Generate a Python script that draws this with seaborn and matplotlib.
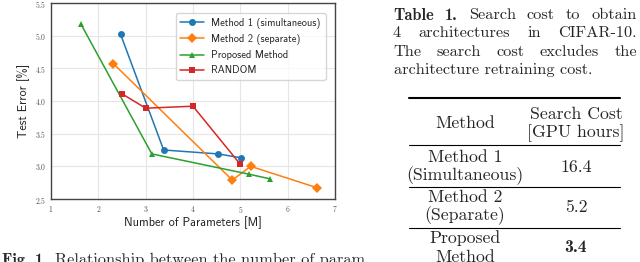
import pandas as pd
import matplotlib.pyplot as plt
import seaborn as sns
from matplotlib.lines import Line2D

# chart data
methods = ["Method 1 (simultaneous)", "Method 2 (separate)", "Proposed Method", "RANDOM"]
params_m1 = [2.47, 3.38, 4.53, 5.02]
error_m1 = [5.02, 3.25, 3.19, 3.13]
params_m2 = [2.32, 4.83, 5.22, 6.63]
error_m2 = [4.57, 2.79, 3.00, 2.67]
params_prop = [1.63, 3.13, 5.18, 5.62]
error_prop = [5.18, 3.19, 2.88, 2.81]
params_rand = [2.50, 3.00, 4.00, 5.00]
error_rand = [4.11, 3.89, 3.92, 3.03]

# table data
table_methods = [("Method 1", "(Simultaneous)"), ("Method 2", "(Separate)"), ("Proposed", "Method")]
table_costs = ["16.4", "5.2", "3.4"]

W, H = 640, 262


def fx(x):
    return x / W


def fy(y):
    return 1 - y / H


rows = []
for name, xs, ys in zip(methods,
                        [params_m1, params_m2, params_prop, params_rand],
                        [error_m1, error_m2, error_prop, error_rand]):
    for x, y in zip(xs, ys):
        rows.append({"Method": name, "Params": x, "Error": y})
df = pd.DataFrame(rows)

sns.set_style("whitegrid", {"axes.edgecolor": "#444444", "grid.color": "#e6e6e6"})
plt.rcParams["axes.formatter.use_mathtext"] = True

fig = plt.figure(figsize=(W / 100, H / 100), dpi=100)
renderer = fig.canvas.get_renderer()


def text_width(s, family, size=10):
    t = fig.text(0, 0, s, family=family, fontsize=size)
    w = t.get_window_extent(renderer).width
    t.remove()
    return w


# pick font sizes so the text spans about the same width as in the paper
cap_size = 10 * 198 / text_width("architecture retraining cost.", "cmr10")
tab_size = 10 * 117 / text_width("(Simultaneous)", "cmr10")
lab_size = 10 * 138 / text_width("Number of Parameters [M]", "cmss10")
leg_size = 10 * 110 / text_width("Method 1 (simultaneous)", "cmss10")

ax = fig.add_axes([fx(51), fy(199), fx(335) - fx(51), fy(3) - fy(199)])

palette = dict(zip(methods, ["#1f77b4", "#ff7f0e", "#2ca02c", "#d62728"]))
markers = dict(zip(methods, ["o", "D", "^", "s"]))
sns.lineplot(data=df, x="Params", y="Error", hue="Method", style="Method",
             palette=palette, markers=markers, dashes=False, sort=False,
             markersize=5, linewidth=1.1, markeredgewidth=0, ax=ax)

ax.set_xlim(1, 7)
ax.set_ylim(2.5, 5.5)
ax.set_xticks(range(1, 8))
ax.set_yticks([2.5, 3.0, 3.5, 4.0, 4.5, 5.0, 5.5])
ax.tick_params(labelsize=5.5, colors="#555555", length=2, pad=1.5)
for lbl in ax.get_xticklabels() + ax.get_yticklabels():
    lbl.set_fontfamily("cmr10")
for sp in ax.spines.values():
    sp.set_linewidth(1.0)
ax.set_xlabel("Number of Parameters [M]", family="cmss10", fontsize=lab_size, labelpad=1)
ax.set_ylabel("Test Error [%]", family="cmss10", fontsize=lab_size, labelpad=3)
leg = ax.legend(loc="upper right", prop={"family": "cmss10", "size": leg_size},
                frameon=True, borderpad=0.45, labelspacing=0.5, handlelength=2.3,
                handletextpad=0.7, bbox_to_anchor=(0.985, 0.975))
leg.get_frame().set_edgecolor("#cccccc")

# figure caption (cut off at the bottom)
fig.text(fx(2), fy(253), "Fig. 1.", family="cmb10", fontsize=cap_size, va="top")
fig.text(fx(55), fy(253), "Relationship between the number of param",
         family="cmr10", fontsize=cap_size, va="top")


def justify(words, y, x0=393, x1=637):
    texts = []
    for w, fam in words:
        t = fig.text(0, fy(y), w, family=fam, fontsize=cap_size, va="center")
        texts.append(t)
    widths = [t.get_window_extent(renderer).width for t in texts]
    gap = (x1 - x0 - sum(widths)) / (len(widths) - 1)
    x = x0
    for t, w in zip(texts, widths):
        t.set_x(fx(x))
        x += w + gap


justify([("Table", "cmb10"), ("1.", "cmb10"), ("Search", "cmr10"), ("cost", "cmr10"),
         ("to", "cmr10"), ("obtain", "cmr10")], 15)
justify([("4", "cmr10"), ("architectures", "cmr10"), ("in", "cmr10"),
         ("CIFAR-10.", "cmr10")], 33)
justify([("The", "cmr10"), ("search", "cmr10"), ("cost", "cmr10"),
         ("excludes", "cmr10"), ("the", "cmr10")], 52)
fig.text(fx(394), fy(70), "architecture retraining cost.", family="cmr10",
         fontsize=cap_size, va="center")

# table rules
for y, lw in [(98, 1.5), (145, 0.8), (187, 0.8), (228, 0.8)]:
    fig.add_artist(Line2D([fx(409), fx(620)], [fy(y), fy(y)], color="black", lw=lw))

c1, c2 = 465, 576
fig.text(fx(c1), fy(123), "Method", family="cmr10", fontsize=tab_size, ha="center", va="center")
fig.text(fx(c2), fy(114), "Search Cost", family="cmr10", fontsize=tab_size, ha="center", va="center")
fig.text(fx(c2), fy(133), "[GPU hours]", family="cmr10", fontsize=tab_size, ha="center", va="center")
row_tops = [157, 197, 238]
for (l1, l2), cost, y in zip(table_methods, table_costs, row_tops):
    fig.text(fx(c1), fy(y), l1, family="cmr10", fontsize=tab_size, ha="center", va="center")
    fig.text(fx(c1), fy(y + 19), l2, family="cmr10", fontsize=tab_size, ha="center", va="center")
    fam = "cmb10" if cost == "3.4" else "cmr10"
    fig.text(fx(c2), fy(y + 10), cost, family=fam, fontsize=tab_size, ha="center", va="center")

fig.savefig("out.png", dpi=100)
